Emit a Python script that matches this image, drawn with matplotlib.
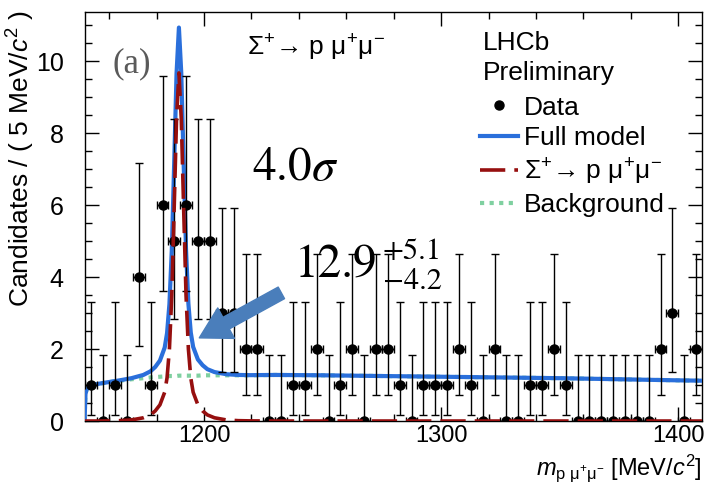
import numpy as np
import matplotlib.pyplot as plt
from matplotlib.ticker import MultipleLocator

plt.rcParams['font.family'] = ['Liberation Sans', 'DejaVu Sans']
plt.rcParams['mathtext.fontset'] = 'custom'
plt.rcParams['mathtext.rm'] = 'Liberation Sans'
plt.rcParams['mathtext.it'] = 'Liberation Sans:italic'
plt.rcParams['mathtext.bf'] = 'Liberation Sans:bold'

# data: bin centres (5 MeV bins) and counts
mass = np.arange(1152.5, 1410, 5)
counts = [1, 0, 1, 0, 4, 1, 6, 5, 6, 5, 5, 3, 3, 2, 2, 0, 0, 1, 1, 2,
          0, 1, 2, 0, 2, 2, 1, 0, 1, 1, 1, 2, 1, 0, 2, 0, 0, 1, 1, 2,
          1, 0, 0, 0, 0, 0, 0, 0, 2, 3, 0, 2]
# asymmetric poisson (68%) errors
err_lo_tab = {0: 0.0, 1: 0.83, 2: 1.29, 3: 1.63, 4: 1.91, 5: 2.16, 6: 2.38}
err_hi_tab = {0: 1.84, 1: 2.30, 2: 2.64, 3: 2.92, 4: 3.16, 5: 3.38, 6: 3.58}
err_lo = [err_lo_tab[c] for c in counts]
err_hi = [err_hi_tab[c] for c in counts]

# fit curves
m_curve = [1149.6, 1150.0, 1150.5, 1151.5, 1153, 1156, 1160, 1164.4, 1169.4, 1174.4,
           1177.4, 1179.4, 1181.4, 1183.4, 1184.4, 1185.4, 1186.4, 1187.4, 1188.4, 1189.4,
           1190.4, 1191.4, 1192.4, 1193.4, 1194.4, 1195.4, 1197.4, 1199.4, 1201.4, 1204.4,
           1209.4, 1214.4, 1219.4, 1230, 1250, 1275, 1300, 1325, 1350, 1375, 1400, 1410]
sig_curve = [0, 0, 0, 0, 0, 0, 0.004, 0.01, 0.03, 0.09,
             0.17, 0.28, 0.45, 0.8, 1.2, 2.0, 3.5, 5.9, 8.4, 9.67,
             8.4, 5.9, 3.5, 2.0, 1.2, 0.8, 0.45, 0.28, 0.17, 0.09,
             0.03, 0.01, 0.004, 0, 0, 0, 0, 0, 0, 0, 0, 0]
bkg_curve = [0, 0.75, 0.88, 0.95, 1.0, 1.04, 1.08, 1.12, 1.16, 1.19,
             1.21, 1.22, 1.23, 1.24, 1.24, 1.25, 1.25, 1.25, 1.25, 1.26,
             1.26, 1.26, 1.26, 1.26, 1.26, 1.26, 1.26, 1.27, 1.27, 1.27,
             1.27, 1.27, 1.27, 1.28, 1.27, 1.25, 1.23, 1.21, 1.19, 1.16, 1.13, 1.12]
full_curve = np.array(sig_curve) + np.array(bkg_curve)

sig_label = r'$\Sigma^{+}$→ p $\mathrm{\mu^{+}\mu^{-}}$'

fig = plt.figure(figsize=(7.05, 4.86), dpi=100)
ax = fig.add_axes([0.1199, 0.1337, 0.8759, 0.8422])

ax.plot(m_curve, bkg_curve, color='#7fd0a0', lw=3, ls=(0, (1, 1.3)), zorder=2)
ax.plot(m_curve, full_curve, color='#2a6fdb', lw=3, zorder=3)
ax.errorbar(mass, counts, yerr=[err_lo, err_hi], xerr=2.5, fmt='o', color='black',
            ms=6.5, elinewidth=1.0, capsize=3, capthick=1.0, zorder=4)
ax.plot(m_curve, sig_curve, color='#960f0f', lw=2.6, ls=(0, (7, 2.5)), zorder=5)

ax.set_xlim(1149.6, 1410)
ax.set_ylim(0, 11.37)
ax.xaxis.set_major_locator(MultipleLocator(100))
ax.xaxis.set_minor_locator(MultipleLocator(20))
ax.yaxis.set_major_locator(MultipleLocator(2))
ax.yaxis.set_minor_locator(MultipleLocator(0.5))
ax.tick_params(which='both', direction='in', top=True, right=True, width=1)
ax.tick_params(which='major', length=10)
ax.tick_params(which='minor', length=5)
ax.tick_params(axis='x', labelsize=17, pad=3)
ax.tick_params(axis='y', labelsize=18, pad=15)
for s in ax.spines.values():
    s.set_linewidth(1)

fig.text(0.030, 1 - 10 / 486, 'Candidates / ( 5 MeV/$c^{2}$ )', rotation=90,
         ha='center', va='top', fontsize=19)
fig.text(702 / 705, 1 - 475 / 486, r'$m_{\mathrm{p\ \mu^{+}\mu^{-}}}$ [MeV/$c^{2}$]',
         ha='right', va='baseline', fontsize=17)

ax.text(0.046, 0.872, '(a)', transform=ax.transAxes, fontsize=25, color='#5a5a5a',
        family='Liberation Serif', va='center')
ax.text(0.263, 0.894, sig_label, transform=ax.transAxes, fontsize=19, va='baseline')
ax.text(0.645, 0.906, 'LHCb', transform=ax.transAxes, fontsize=19, va='baseline')
ax.text(0.645, 0.833, 'Preliminary', transform=ax.transAxes, fontsize=19, va='baseline')

ax.text(0.272, 0.589, r'$4.0\sigma$', transform=ax.transAxes, fontsize=34,
        math_fontfamily='stix', va='baseline')
ax.text(0.341, 0.352, '12.9', transform=ax.transAxes, fontsize=34,
        family='STIXGeneral', va='baseline')
ax.text(0.483, 0.396, '+5.1', transform=ax.transAxes, fontsize=22,
        family='STIXGeneral', va='baseline')
ax.text(0.483, 0.3225, '\u22124.2', transform=ax.transAxes, fontsize=22,
        family='STIXGeneral', va='baseline')

ax.annotate('', xy=(1198.0, 2.31), xytext=(1232.6, 3.56),
            arrowprops=dict(arrowstyle='simple,head_length=2.2,head_width=2.5,tail_width=0.95',
                            color='#4a7ebb', mutation_scale=10, shrinkA=0, shrinkB=0), zorder=6)

h_data = ax.errorbar([], [], yerr=[], fmt='o', color='black', ms=6.5)
h_full, = ax.plot([], [], color='#2a6fdb', lw=3)
h_sig, = ax.plot([], [], color='#960f0f', lw=2.6, ls=(0, (7, 2.5)))
h_bkg, = ax.plot([], [], color='#7fd0a0', lw=3, ls=(0, (1, 1.3)))
ax.legend([h_data[0], h_full, h_sig, h_bkg],
          ['Data', 'Full model', sig_label, 'Background'],
          loc='upper left', bbox_to_anchor=(0.640, 0.795), frameon=False, fontsize=19,
          borderpad=0, borderaxespad=0, handlelength=1.46, handletextpad=0.2,
          labelspacing=0.24)

fig.savefig('out.png', dpi=100)
